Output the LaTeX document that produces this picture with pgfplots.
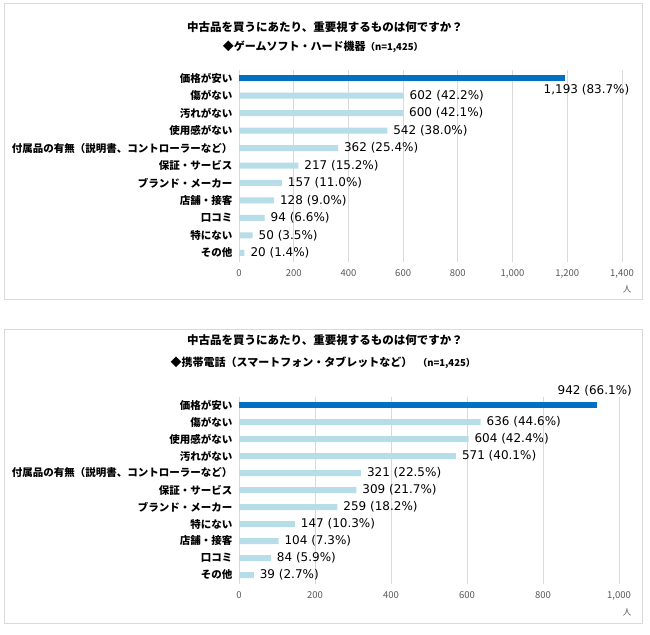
\documentclass[border=0pt]{standalone}
\usepackage{fontspec}
\setmainfont{Noto Sans CJK JP}
\newfontfamily\vals{DejaVu Sans}
\usepackage{pgfplots}
\pgfplotsset{compat=1.18}
\usepackage{pgfplotstable}
\definecolor{darkbar}{HTML}{0070C0}
\definecolor{lightbar}{HTML}{B7DEE8}
\definecolor{gridc}{HTML}{D9D9D9}
\definecolor{tickc}{HTML}{595959}

\pgfplotstableread{
i v lab
0 1193 {1,193 (83.7\%)}
}\gtop
\pgfplotstableread{
i v lab
1 602 {602 (42.2\%)}
2 600 {600 (42.1\%)}
3 542 {542 (38.0\%)}
4 362 {362 (25.4\%)}
5 217 {217 (15.2\%)}
6 157 {157 (11.0\%)}
7 128 {128 (9.0\%)}
8 94 {94 (6.6\%)}
9 50 {50 (3.5\%)}
10 20 {20 (1.4\%)}
}\grest
\pgfplotstableread{
i v lab
0 942 {942 (66.1\%)}
}\ptop
\pgfplotstableread{
i v lab
1 636 {636 (44.6\%)}
2 604 {604 (42.4\%)}
3 571 {571 (40.1\%)}
4 321 {321 (22.5\%)}
5 309 {309 (21.7\%)}
6 259 {259 (18.2\%)}
7 147 {147 (10.3\%)}
8 104 {104 (7.3\%)}
9 84 {84 (5.9\%)}
10 39 {39 (2.7\%)}
}\prest

\pgfplotsset{mystyle/.style={
  xbar, scale only axis, bar shift=0pt, bar width=6pt,
  y dir=reverse, ymin=-0.5, ymax=10.5, ytick={0,...,10},
  axis line style={draw=none}, major tick length=0pt,
  xmajorgrids, grid style={gridc, line width=0.8pt},
  xticklabel style={font=\fontsize{9.5}{11}\selectfont, text=tickc, yshift=-4.5pt},
  yticklabel style={font=\bfseries\fontsize{10.5}{12}\selectfont, text=black, xshift=-3pt},
  /pgf/number format/assume math mode=true,
  point meta=explicit symbolic,
  nodes near coords,
  nodes near coords style={font=\vals\fontsize{12}{14}\selectfont, anchor=west, xshift=2.5pt, text=black},
  anchor=south west,
}}

\begin{document}
\begin{tikzpicture}
\path[use as bounding box] (0,0) rectangle (650pt,-634pt);
\fill[white] (0,0) rectangle (650pt,-634pt);
\draw[gridc, line width=1pt] (4.5pt,-3.5pt) rectangle (642pt,-299pt);
\draw[gridc, line width=1pt] (4.5pt,-329pt) rectangle (642pt,-623pt);

\node[font=\bfseries\fontsize{11.5}{13}\selectfont] at (325pt,-27pt) {中古品を買うにあたり、重要視するものは何ですか？};
\node[font=\bfseries\fontsize{11}{13}\selectfont] at (323pt,-47pt) {◆ゲームソフト・ハード機器{\fontsize{9.5}{11}\selectfont（n=1,425）}};
\node[font=\bfseries\fontsize{11.5}{13}\selectfont] at (325pt,-340pt) {中古品を買うにあたり、重要視するものは何ですか？};
\node[font=\bfseries\fontsize{11}{13}\selectfont] at (323pt,-363pt) {◆携帯電話（スマートフォン・タブレットなど）\enspace{\fontsize{9.5}{11}\selectfont（n=1,425）}};

\begin{axis}[mystyle, at={(239pt,-261.5pt)}, width=383pt, height=192pt,
  xmin=0, xmax=1400, xtick={0,200,...,1400},
  yticklabels={価格が安い,傷がない,汚れがない,使用感がない,付属品の有無（説明書、コントローラーなど）,保証・サービス,ブランド・メーカー,店舗・接客,口コミ,特にない,その他}]
\addplot[fill=darkbar, draw=none, nodes near coords style={anchor=east, xshift=65pt, yshift=-11.5pt}] table[x=v, y=i, meta=lab] {\gtop};
\addplot[fill=lightbar, draw=none] table[x=v, y=i, meta=lab] {\grest};
\end{axis}
\node[text=tickc, font=\fontsize{8.5}{9}\selectfont] at (627pt,-289pt) {人};

\begin{axis}[mystyle, at={(239pt,-583.5pt)}, width=380pt, height=187pt,
  xmin=0, xmax=1000, xtick={0,200,...,1000},
  yticklabels={価格が安い,傷がない,使用感がない,汚れがない,付属品の有無（説明書、コントローラーなど）,保証・サービス,ブランド・メーカー,特にない,店舗・接客,口コミ,その他}]
\addplot[fill=darkbar, draw=none, nodes near coords style={anchor=east, xshift=36pt, yshift=14pt}] table[x=v, y=i, meta=lab] {\ptop};
\addplot[fill=lightbar, draw=none] table[x=v, y=i, meta=lab] {\prest};
\end{axis}
\node[text=tickc, font=\fontsize{8.5}{9}\selectfont] at (627pt,-612pt) {人};
\end{tikzpicture}
\end{document}
